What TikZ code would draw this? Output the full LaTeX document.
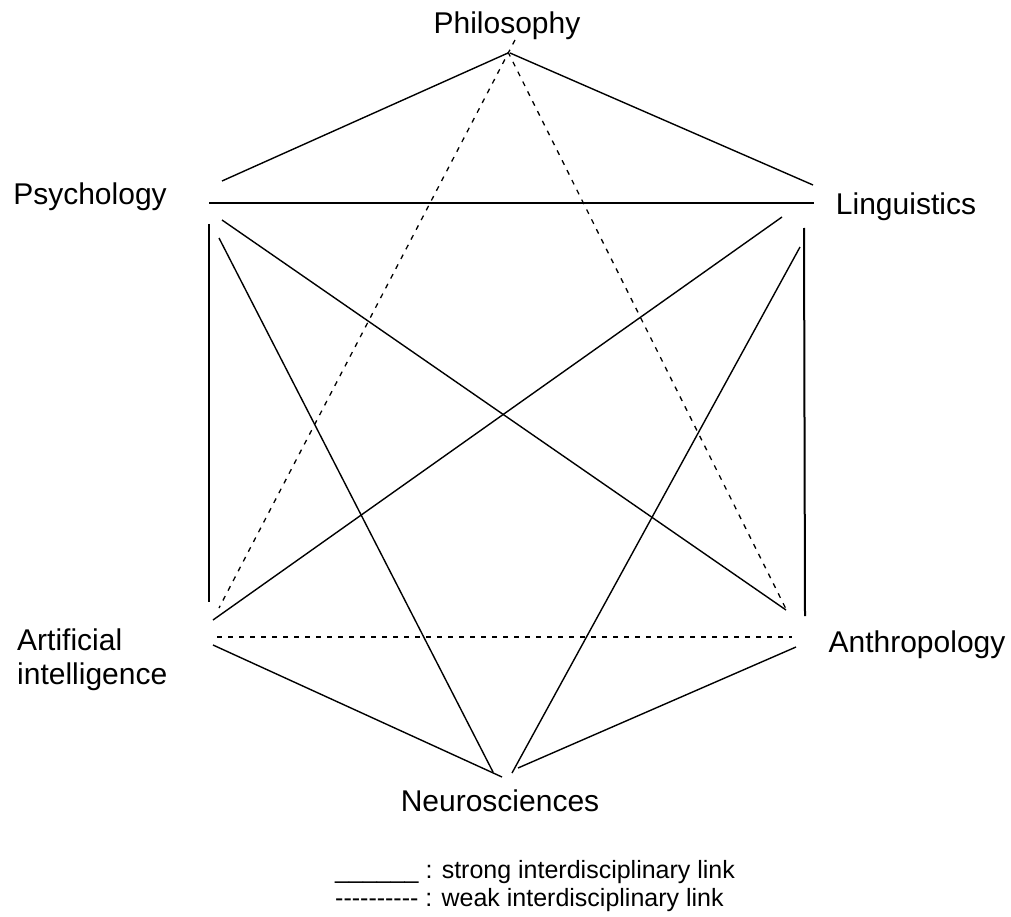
\documentclass[tikz,border=0pt]{standalone}
\usepackage{fontspec}
\setmainfont{Liberation Sans}
\tikzset{
  strong/.style={line width=1.4pt},
  strongaxis/.style={line width=2pt},
  weak/.style={line width=1.3pt,dash pattern=on 5pt off 6pt},
  field/.style={inner sep=0pt,font=\fontsize{30}{34}\selectfont},
  legend/.style={inner sep=0pt,anchor=base west,font=\fontsize{25}{30}\selectfont}
}
\begin{document}
\begin{tikzpicture}[x=1pt,y=-1pt]
	    \useasboundingbox (0,0) rectangle (1011,917);
	    % the six fields
	    \node[field,anchor=base] (phi) at (507,34) {Philosophy};
	    \node[field,anchor=base] (psy) at (90,205) {Psychology};
	    \node[field,anchor=base] (lin) at (906,215) {Linguistics};
	    \node[field,anchor=north west,align=left] (ai) at (17,629) {Artificial\\intelligence};
	    \node[field,anchor=base] (ant) at (917,652) {Anthropology};
	    \node[field,anchor=base] (neu) at (500,811) {Neurosciences};
	    % end points of the links
	    \coordinate (phi-psy) at (508,53);   \coordinate (psy-phi) at (222,181);
	    \coordinate (phi-lin) at (510,53);   \coordinate (lin-phi) at (813,185);
	    \coordinate (phi-ai) at (515,40);    \coordinate (ai-phi) at (219,608);
	    \coordinate (phi-ant) at (508,52);   \coordinate (ant-phi) at (787,611);
	    \coordinate (psy-lin) at (209,203);  \coordinate (lin-psy) at (814,203);
	    \coordinate (psy-ai) at (209,224);   \coordinate (ai-psy) at (209,602);
	    \coordinate (psy-ant) at (222,220);  \coordinate (ant-psy) at (786,610);
	    \coordinate (psy-neu) at (219,238);  \coordinate (neu-psy) at (493,772);
	    \coordinate (lin-ant) at (804,228);  \coordinate (ant-lin) at (805,616);
	    \coordinate (lin-ai) at (782,217);   \coordinate (ai-lin) at (213,620);
	    \coordinate (lin-neu) at (800,247);  \coordinate (neu-lin) at (512,773);
	    \coordinate (ai-ant) at (217,637);   \coordinate (ant-ai) at (792,637);
	    \coordinate (ai-neu) at (213,645);   \coordinate (neu-ai) at (502,777);
	    \coordinate (ant-neu) at (796,647);  \coordinate (neu-ant) at (518,768);
	    % strong links
	    \draw[strong](phi-psy)--(psy-phi);
	    \draw[strong](phi-lin)--(lin-phi);
	    \draw[strongaxis](psy-lin)--(lin-psy);
	    \draw[strongaxis](psy-ai)--(ai-psy);
	    \draw[strongaxis](lin-ant)--(ant-lin);
	    \draw[strong](psy-ant)--(ant-psy);
	    \draw[strong](psy-neu)--(neu-psy);
	    \draw[strong](lin-ai)--(ai-lin);
	    \draw[strong](lin-neu)--(neu-lin);
	    \draw[strong](ai-neu)--(neu-ai);
	    \draw[strong](ant-neu)--(neu-ant);
	    % weak links
	    \draw[weak](phi-ai)--(ai-phi);
	    \draw[weak](phi-ant)--(ant-phi);
	    \draw[weak](ai-ant)--(ant-ai);
	    % legend
	    \node[legend] (keystrong) at (335,878) {\_\_\_\_\_\_ : strong interdisciplinary link};
	    \node[legend] (keyweak) at (335,906) {-{}-{}-{}-{}-{}-{}-{}-{}-{}- : weak interdisciplinary link};
	\end{tikzpicture}
\end{document}
